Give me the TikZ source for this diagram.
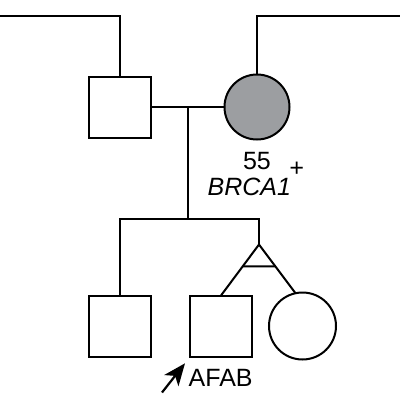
\documentclass[tikz,border=0pt]{standalone}
\usepackage{fontspec}
\setmainfont{Liberation Sans}
\usetikzlibrary{arrows.meta, positioning, calc}
\definecolor{affgray}{RGB}{156,158,161}
\tikzset{
  male/.style={
    rectangle, minimum width=62pt, minimum height=61pt,
    inner sep=0pt, outer sep=0pt, draw=black, line width=2pt, fill=white
  },
  female/.style={
    circle, minimum size=65pt,
    inner sep=0pt, outer sep=0pt, draw=black, line width=2pt, fill=white
  },
  affected/.style={fill=affgray},
  info/.style={inner sep=0pt, font=\fontsize{25}{27}\selectfont},
  link/.style={line width=2pt, draw=black},
  proband/.style={-{Stealth[length=22pt, width=18pt, inset=6pt]}, line width=2.2pt, draw=black},
}

\begin{document}
\begin{tikzpicture}[x=1pt, y=-1pt]
\useasboundingbox (0,0) rectangle (400,400);

% --- Parents ---
\node[male] (father) at (120,107) {};
\node[female, affected, right=73.5pt of father] (mother) {};

% --- Lines up to the grandparents ---
\coordinate (gpL) at (0,16);
\coordinate (gpR) at (400,16);
\draw[link] (gpL) -| (father.north);
\draw[link] (gpR) -| (mother.north);

% --- Marriage and descent ---
\draw[link] (father.east) -- (mother.west);
\coordinate (mid) at ($(father.east)!0.5!(mother.west)$);
\coordinate (sib) at ($(mid)+(0,112)$);
\draw[link] (mid) -- (sib);

% --- Children ---
\node[male, below=158pt of father] (son) {};
\node[male, right=39pt of son] (index) {};
\node[female, minimum size=67pt, right=17pt of index] (twin) {};

% --- Sibship line and twins ---
\coordinate (apex) at (259,244.5);
\coordinate (branch) at (apex |- sib);
\draw[link] (son.north) |- (branch) -- (apex);
\draw[link] (apex) -- (index.north);
\draw[link] (apex) -- (twin.102);
\draw[link] ($(apex)!0.43!(index.north)$) -- ($(apex)!0.45!(twin.102)$);

% --- Labels ---
\node[info, anchor=base] (age) at (257,169.3) {55};
\node[info, anchor=base west] (gene) at (207.5,195) {\itshape BRCA1\kern-2pt\raisebox{19pt}{+}};

% --- Proband arrow ---
\coordinate (tail) at (162,392.5);
\coordinate (tip) at (185,363.3);
\draw[proband] (tail) -- (tip);
\node[info, anchor=base west] (afab) at (188.5,386.7) {AFAB};

\end{tikzpicture}
\end{document}
